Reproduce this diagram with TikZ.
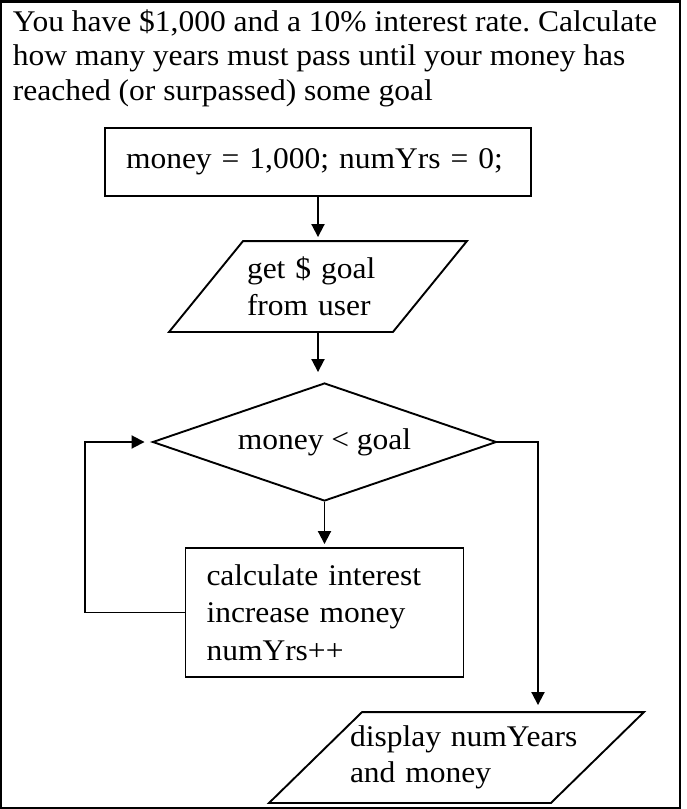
\documentclass[tikz,border=0pt]{standalone}
\usepackage{fontspec}
\setmainfont{Liberation Serif}[FakeStretch=1.05]
\usetikzlibrary{shapes.geometric,arrows.meta}
\frenchspacing

\begin{document}
\begin{tikzpicture}[x=1pt,y=-1pt,line width=1.9pt,
  txt/.style={font=\fontsize{30}{37.5}\selectfont},
  box/.style={txt,draw,rectangle,align=left,inner xsep=21pt},
  io/.style={txt,rectangle,align=left,inner ysep=0pt,minimum height=89pt},
  decision/.style={txt,draw,diamond,aspect=2.9,inner sep=2pt,minimum width=344pt,minimum height=118pt},
  arr/.style={-{Triangle[length=13pt,width=13pt]}}]
\useasboundingbox (0,0) rectangle (687,809);
\draw[line width=2.5pt] (1,1.5) rectangle (680,808);
\node[txt,anchor=north west,align=left,inner sep=0pt,font=\fontsize{30}{34.3}\selectfont] (task) at (12,9) {You have \$1,000 and a 10\% interest rate. Calculate\\how many years must pass until your money has\\reached (or surpassed) some goal};
\node[box,minimum width=426pt,minimum height=68pt,text width=384pt] (init) at (318,162) {money = 1,000; numYrs = 0;};
\node[io,minimum width=296pt,text width=142pt,inner xsep=77pt,font=\fontsize{30}{37}\selectfont] (input) at (318,286.5) {get \$ goal\\from user};
\draw ([xshift=74pt]input.north west) -- (input.north east) -- ([xshift=-74pt]input.south east) -- (input.south west) -- cycle;
\node[decision] (cond) at (324.5,442) {money < goal};
\node[box,minimum height=129pt,text width=236pt] (update) at (324.5,612.5) {calculate interest\\increase money\\numYrs++};
\node[io,minimum width=373pt,text width=213pt,inner xsep=80pt,font=\fontsize{30}{36}\selectfont] (output) at (456.5,757.5) {display~numYears\\and money};
\draw ([xshift=93pt]output.north west) -- (output.north east) -- ([xshift=-93pt]output.south east) -- (output.south west) -- cycle;
% connectors
\draw[arr,shorten >=4pt] (init) -- (input);
\draw[arr,shorten >=10pt] (input) -- (input |- cond.north);
\draw[arr,shorten >=3pt] (cond) -- (update);
\draw[arr,shorten >=7pt] (update.west) -- ++(-100,0) |- (cond.west);
\draw[arr,shorten >=7pt] (cond.east) -| ([xshift=81.5pt]output.north);
\end{tikzpicture}
\end{document}
